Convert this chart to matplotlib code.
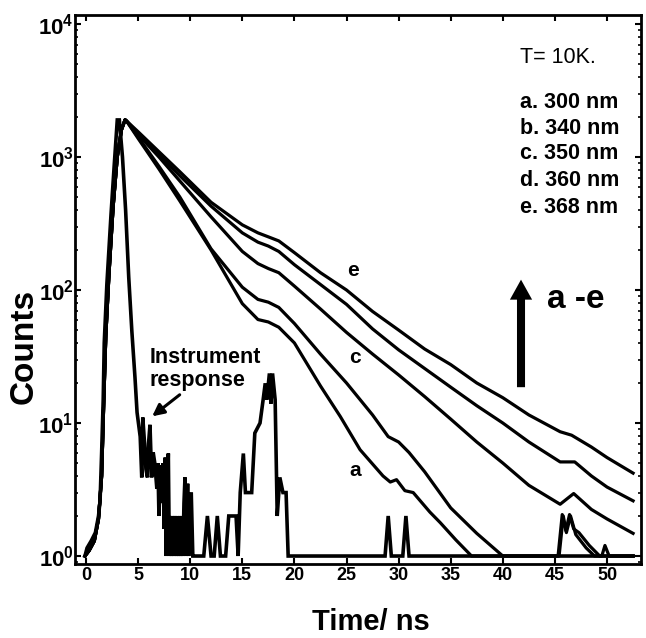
import numpy as np
import matplotlib
matplotlib.use("Agg")
import matplotlib.pyplot as plt
from matplotlib.ticker import FixedLocator, FuncFormatter, LogLocator, NullFormatter

plt.rcParams['font.family'] = ['Liberation Sans', 'DejaVu Sans']
plt.rcParams['mathtext.fontset'] = 'custom'
plt.rcParams['mathtext.rm'] = 'Liberation Sans:bold'
plt.rcParams['mathtext.bf'] = 'Liberation Sans:bold'

# ---------------- data ----------------
irf_t = [-0.1, 0.1, 0.5, 0.9, 1.2, 1.35, 1.5, 1.65, 1.75, 2.0, 2.4, 2.7, 2.9, 3.0, 3.2,
         3.5, 3.8, 4.1, 4.4, 4.7, 4.9, 5.2, 5.35, 5.45, 5.6, 5.75, 5.9, 6.0, 6.14, 6.3, 6.45,
         6.6, 6.8, 6.9, 7.0, 7.15, 7.3, 7.4, 7.5, 7.6, 7.7, 7.8, 7.9, 8.0, 8.1, 8.2, 8.3,
         8.4, 8.5, 8.6, 8.7, 8.8, 8.9, 9.0, 9.1, 9.2, 9.3, 9.4, 9.5, 9.6, 9.75, 9.85,
         9.95, 10.1, 10.25, 10.4, 11.3, 11.65, 12.0, 12.3, 12.6, 12.9, 13.4, 13.7, 14.4,
         14.6, 14.8, 15.1, 15.3, 15.9, 16.2, 16.7, 17.0, 17.2, 17.35, 17.6, 17.75, 17.9,
         18.15, 18.35, 18.6, 18.9, 19.2, 19.4, 28.7, 29.0, 29.3, 30.4, 30.7, 31.0, 52.5]
irf_c = [1, 1.15, 1.3, 1.5, 2.0, 2.6, 6, 15, 40, 110, 370, 850, 1450, 1900, 1900,
         1000, 400, 125, 49, 22, 12, 7.9, 3.9, 11, 7.4, 4.5, 3.9, 7, 9.7, 3.9, 6,
         5, 3.2, 5, 2, 4.8, 2.5, 5, 1.6, 5.5, 1, 3, 5.9, 1, 2, 1, 2,
         1, 2, 1.5, 1, 2, 1, 2, 1, 2, 1, 2.5, 3.9, 1, 3.5, 1,
         2, 3, 1, 1, 1, 2, 1, 1, 2, 1, 1, 2, 2,
         1, 3, 5.9, 3, 3, 8.4, 10, 15, 19.9, 15, 23.6, 14, 23.6,
         15, 2, 3.9, 3, 3, 1, 1, 2, 1, 1, 2, 1, 1]

rise_t = [-0.1, 0.3, 0.8, 1.2, 1.5, 1.7, 1.9, 2.2, 2.6, 3.0, 3.4]
rise_c = [1, 1.1, 1.3, 1.9, 4, 14, 45, 130, 420, 1000, 1600]

a_t = [3.75, 3.9, 5, 7, 9, 12, 15, 16.5, 17.5, 18.5, 20, 22.5, 24.4, 26.3, 28.5, 29.2,
       29.8, 30.6, 31.4, 33, 34, 35.5, 37, 45.3, 45.7, 46.05, 46.4, 46.8, 47.3, 48.3, 49.3, 52.5]
a_c = [1905, 1862, 1380, 813, 468, 200, 79, 60, 57.5, 52.5, 40, 19, 11.2, 6.3, 4.0, 3.6,
       3.75, 3.1, 3.0, 2.14, 1.78, 1.32, 1, 1, 2.05, 1.55, 2.05, 1.6, 1.5, 1.2, 1, 1]

b_t = [3.75, 3.9, 5, 7, 9, 12, 15, 16.5, 17.5, 18.5, 20, 22.5, 25, 27.5, 29, 30, 31,
       32.5, 35, 37.5, 40, 45.4, 45.8, 46.1, 46.5, 47.0, 48.0, 48.8, 49.5, 49.8, 50.2, 52.5]
b_c = [1905, 1862, 1413, 851, 501, 204, 105, 85, 81, 74, 56, 33, 20, 11.5, 7.9, 7.2, 6.0,
       4.3, 2.3, 1.48, 1, 1, 2.0, 1.5, 2.0, 1.45, 1.15, 1, 1, 1.2, 1, 1]

c_t = [3.75, 3.9, 5, 7, 9, 12, 15, 16.5, 17.5, 18.5, 20, 22.5, 25, 27.5, 30, 32.5, 35,
       37.5, 40, 42.5, 45.5, 46.8, 48.5, 50, 52.5]
c_c = [1905, 1862, 1479, 1000, 661, 355, 195, 158, 145, 135, 107, 72, 48, 33, 23, 15.8,
       10.7, 7.2, 5.0, 3.4, 2.45, 2.95, 2.24, 1.9, 1.48]

d_t = [3.75, 3.9, 5, 7, 9, 12, 15, 16.5, 17.5, 18.5, 20, 22.5, 25, 27.5, 30, 32.5, 35,
       37.5, 40, 42.5, 45.5, 46.9, 48.5, 50, 52.5]
d_c = [1905, 1862, 1514, 1047, 724, 427, 269, 229, 214, 195, 155, 110, 78, 51, 35.5, 25.7,
       18.6, 13.5, 10, 7.2, 5.1, 5.1, 4.0, 3.3, 2.6]

e_t = [3.75, 3.9, 5, 7, 9, 12, 15, 16.5, 17.5, 18.5, 20, 22.5, 25, 27.5, 30, 32.5, 35,
       37.5, 40, 42.5, 45.5, 46.6, 48.5, 50, 52.5]
e_c = [1905, 1862, 1549, 1096, 776, 457, 309, 269, 251, 234, 191, 135, 100, 69, 50, 36,
       27.5, 20, 15.5, 11.5, 8.6, 8.1, 6.6, 5.5, 4.2]

x_ticks = [0, 5, 10, 15, 20, 25, 30, 35, 40, 45, 50]
y_ticks = [1, 10, 100, 1000, 10000]
legend_lines = ["a. 300 nm", "b. 340 nm", "c. 350 nm", "d. 360 nm", "e. 368 nm"]

# ---------------- figure ----------------
fig = plt.figure(figsize=(6.46, 6.38), dpi=100)
ax = fig.add_axes([75/646, 1-564/638, 566/646, 549/638])
ax.set_yscale('log')

ax.plot(irf_t, irf_c, color='k', lw=2.6, solid_joinstyle='miter')
for tt, cc in [(a_t, a_c), (b_t, b_c), (c_t, c_c), (d_t, d_c), (e_t, e_c)]:
    ax.plot(rise_t + tt, rise_c + cc, color='k', lw=2.3, solid_joinstyle='round')

ax.set_xlim(-1.056, 53.26)
ax.set_ylim(0.871, 11690)

ax.xaxis.set_major_locator(FixedLocator(x_ticks))
ax.yaxis.set_major_locator(FixedLocator(y_ticks))
ax.yaxis.set_minor_locator(LogLocator(base=10, subs=np.arange(2, 10)))
ax.yaxis.set_minor_formatter(NullFormatter())
ax.yaxis.set_major_formatter(FuncFormatter(lambda v, p: r'$\mathbf{10^{%d}}$' % int(round(np.log10(v)))))
ax.xaxis.set_major_formatter(FuncFormatter(lambda v, p: '%d' % v))

ax.tick_params(axis='both', which='major', direction='in', length=4, width=1.5,
               top=True, right=True)
ax.tick_params(axis='x', which='major', labelsize=13, pad=2)
ax.tick_params(axis='y', which='major', labelsize=16, pad=1)
ax.tick_params(axis='y', which='minor', direction='in', length=2.5, width=1.2, right=True)
for lab in ax.get_xticklabels():
    lab.set_fontweight('bold')
for s in ax.spines.values():
    s.set_linewidth(2.0)

ax.set_xlabel('Time/ ns', fontsize=21, fontweight='bold')
ax.set_ylabel('Counts', fontsize=24, fontweight='bold')
ax.xaxis.label.set_va('center')
ax.yaxis.label.set_va('center')
ax.xaxis.set_label_coords((371-75)/566, -(622-564)/549)
ax.yaxis.set_label_coords(-(75-24)/566, 1-(346-15)/549)

# texts
ax.text(0.786, 0.922, "T= 10K.", transform=ax.transAxes, fontsize=15.5, va='center', ha='left')
for i, s in enumerate(legend_lines):
    ax.text(0.786, [0.840, 0.794, 0.747, 0.699, 0.650][i], s, transform=ax.transAxes,
            fontsize=15.5, fontweight='bold', va='center', ha='left')

ax.text(0.491, 0.5355, 'e', transform=ax.transAxes, fontsize=15, fontweight='bold', ha='center', va='center')
ax.text(0.495, 0.377, 'c', transform=ax.transAxes, fontsize=15, fontweight='bold', ha='center', va='center')
ax.text(0.495, 0.171, 'a', transform=ax.transAxes, fontsize=15, fontweight='bold', ha='center', va='center')

ax.text(6.1, 37, 'Instrument\nresponse', fontsize=15.5, fontweight='bold', ha='left', va='top',
        linespacing=1.1)
ax.annotate('', xy=(6.14, 10.9), xytext=(9.2, 16.8),
            arrowprops=dict(arrowstyle='-|>,head_width=0.35,head_length=0.7', lw=2.2, color='k'))

ax.annotate('', xy=(0.788, 0.523), xytext=(0.788, 0.317), xycoords='axes fraction',
            arrowprops=dict(arrowstyle='simple,head_width=0.8,head_length=0.72,tail_width=0.29',
                            mutation_scale=20, color='k', lw=0))
ax.text(0.834, 0.481, 'a -e', transform=ax.transAxes, fontsize=24, fontweight='bold',
        ha='left', va='center')

fig.savefig('out.png', dpi=100)
